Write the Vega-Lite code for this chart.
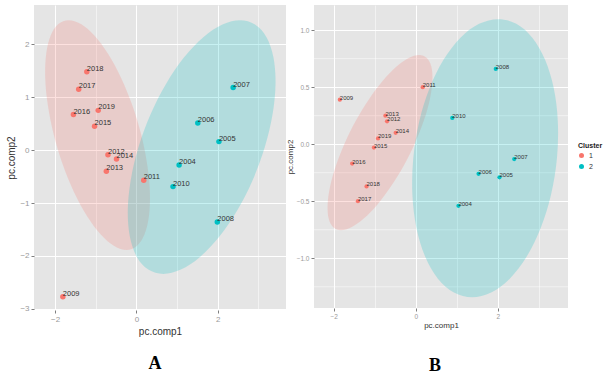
{
  "$schema": "https://vega.github.io/schema/vega-lite/v6.json",
  "background": "white",
  "padding": {"left": 6, "top": 5, "right": 0, "bottom": 0},
  "spacing": 0,
  "datasets": {
    "ptsA": [
      {"year": "2004", "Cluster": "2", "x": 1.05, "y": -0.28},
      {"year": "2005", "Cluster": "2", "x": 2.03, "y": 0.16},
      {"year": "2006", "Cluster": "2", "x": 1.51, "y": 0.51},
      {"year": "2007", "Cluster": "2", "x": 2.38, "y": 1.18},
      {"year": "2008", "Cluster": "2", "x": 1.99, "y": -1.36},
      {"year": "2009", "Cluster": "1", "x": -1.81, "y": -2.77},
      {"year": "2010", "Cluster": "2", "x": 0.9, "y": -0.69},
      {"year": "2011", "Cluster": "1", "x": 0.18, "y": -0.57},
      {"year": "2012", "Cluster": "1", "x": -0.7, "y": -0.09},
      {"year": "2013", "Cluster": "1", "x": -0.74, "y": -0.4},
      {"year": "2014", "Cluster": "1", "x": -0.49, "y": -0.17},
      {"year": "2015", "Cluster": "1", "x": -1.03, "y": 0.45},
      {"year": "2016", "Cluster": "1", "x": -1.55, "y": 0.67},
      {"year": "2017", "Cluster": "1", "x": -1.42, "y": 1.15},
      {"year": "2018", "Cluster": "1", "x": -1.22, "y": 1.48},
      {"year": "2019", "Cluster": "1", "x": -0.94, "y": 0.75}
    ],
    "ptsB": [
      {"year": "2004", "Cluster": "2", "x": 1.04, "y": -0.54},
      {"year": "2005", "Cluster": "2", "x": 2.04, "y": -0.29},
      {"year": "2006", "Cluster": "2", "x": 1.53, "y": -0.26},
      {"year": "2007", "Cluster": "2", "x": 2.4, "y": -0.13},
      {"year": "2008", "Cluster": "2", "x": 1.95, "y": 0.66},
      {"year": "2009", "Cluster": "1", "x": -1.85, "y": 0.39},
      {"year": "2010", "Cluster": "2", "x": 0.89, "y": 0.23},
      {"year": "2011", "Cluster": "1", "x": 0.17, "y": 0.5},
      {"year": "2012", "Cluster": "1", "x": -0.7, "y": 0.2},
      {"year": "2013", "Cluster": "1", "x": -0.74, "y": 0.25},
      {"year": "2014", "Cluster": "1", "x": -0.49, "y": 0.1},
      {"year": "2015", "Cluster": "1", "x": -1.02, "y": -0.03},
      {"year": "2016", "Cluster": "1", "x": -1.55, "y": -0.17},
      {"year": "2017", "Cluster": "1", "x": -1.41, "y": -0.5},
      {"year": "2018", "Cluster": "1", "x": -1.2, "y": -0.37},
      {"year": "2019", "Cluster": "1", "x": -0.92, "y": 0.05}
    ],
    "minorB": [
      {"y": -1.25}, {"y": -0.75}, {"y": -0.25}, {"y": 0.25}, {"y": 0.75}
    ],
    "ellA": [
      {"Cluster": "1", "i": 0, "x": -1.667, "y": 2.453},
      {"Cluster": "1", "i": 1, "x": -1.364, "y": 2.379},
      {"Cluster": "1", "i": 2, "x": -1.034, "y": 2.162},
      {"Cluster": "1", "i": 3, "x": -0.698, "y": 1.817},
      {"Cluster": "1", "i": 4, "x": -0.38, "y": 1.368},
      {"Cluster": "1", "i": 5, "x": -0.101, "y": 0.845},
      {"Cluster": "1", "i": 6, "x": 0.12, "y": 0.283},
      {"Cluster": "1", "i": 7, "x": 0.267, "y": -0.279},
      {"Cluster": "1", "i": 8, "x": 0.332, "y": -0.802},
      {"Cluster": "1", "i": 9, "x": 0.308, "y": -1.251},
      {"Cluster": "1", "i": 10, "x": 0.198, "y": -1.596},
      {"Cluster": "1", "i": 11, "x": 0.01, "y": -1.813},
      {"Cluster": "1", "i": 12, "x": -0.245, "y": -1.887},
      {"Cluster": "1", "i": 13, "x": -0.548, "y": -1.813},
      {"Cluster": "1", "i": 14, "x": -0.878, "y": -1.596},
      {"Cluster": "1", "i": 15, "x": -1.214, "y": -1.251},
      {"Cluster": "1", "i": 16, "x": -1.532, "y": -0.802},
      {"Cluster": "1", "i": 17, "x": -1.811, "y": -0.279},
      {"Cluster": "1", "i": 18, "x": -2.032, "y": 0.283},
      {"Cluster": "1", "i": 19, "x": -2.179, "y": 0.845},
      {"Cluster": "1", "i": 20, "x": -2.244, "y": 1.368},
      {"Cluster": "1", "i": 21, "x": -2.22, "y": 1.817},
      {"Cluster": "1", "i": 22, "x": -2.11, "y": 2.162},
      {"Cluster": "1", "i": 23, "x": -1.922, "y": 2.379},
      {"Cluster": "2", "i": 0, "x": 2.549, "y": 2.453},
      {"Cluster": "2", "i": 1, "x": 2.919, "y": 2.371},
      {"Cluster": "2", "i": 2, "x": 3.2, "y": 2.132},
      {"Cluster": "2", "i": 3, "x": 3.371, "y": 1.751},
      {"Cluster": "2", "i": 4, "x": 3.423, "y": 1.255},
      {"Cluster": "2", "i": 5, "x": 3.35, "y": 0.678},
      {"Cluster": "2", "i": 6, "x": 3.159, "y": 0.057},
      {"Cluster": "2", "i": 7, "x": 2.862, "y": -0.564},
      {"Cluster": "2", "i": 8, "x": 2.479, "y": -1.141},
      {"Cluster": "2", "i": 9, "x": 2.037, "y": -1.637},
      {"Cluster": "2", "i": 10, "x": 1.564, "y": -2.018},
      {"Cluster": "2", "i": 11, "x": 1.095, "y": -2.257},
      {"Cluster": "2", "i": 12, "x": 0.661, "y": -2.339},
      {"Cluster": "2", "i": 13, "x": 0.291, "y": -2.257},
      {"Cluster": "2", "i": 14, "x": 0.01, "y": -2.018},
      {"Cluster": "2", "i": 15, "x": -0.161, "y": -1.637},
      {"Cluster": "2", "i": 16, "x": -0.213, "y": -1.141},
      {"Cluster": "2", "i": 17, "x": -0.14, "y": -0.564},
      {"Cluster": "2", "i": 18, "x": 0.051, "y": 0.057},
      {"Cluster": "2", "i": 19, "x": 0.348, "y": 0.678},
      {"Cluster": "2", "i": 20, "x": 0.731, "y": 1.255},
      {"Cluster": "2", "i": 21, "x": 1.173, "y": 1.751},
      {"Cluster": "2", "i": 22, "x": 1.646, "y": 2.132},
      {"Cluster": "2", "i": 23, "x": 2.115, "y": 2.371}
    ],
    "ellB": [
      {"Cluster": "1", "i": 0, "x": 0.08, "y": 0.781},
      {"Cluster": "1", "i": 1, "x": 0.27, "y": 0.755},
      {"Cluster": "1", "i": 2, "x": 0.381, "y": 0.678},
      {"Cluster": "1", "i": 3, "x": 0.406, "y": 0.556},
      {"Cluster": "1", "i": 4, "x": 0.346, "y": 0.397},
      {"Cluster": "1", "i": 5, "x": 0.202, "y": 0.212},
      {"Cluster": "1", "i": 6, "x": -0.015, "y": 0.013},
      {"Cluster": "1", "i": 7, "x": -0.29, "y": -0.186},
      {"Cluster": "1", "i": 8, "x": -0.606, "y": -0.371},
      {"Cluster": "1", "i": 9, "x": -0.938, "y": -0.53},
      {"Cluster": "1", "i": 10, "x": -1.267, "y": -0.652},
      {"Cluster": "1", "i": 11, "x": -1.568, "y": -0.729},
      {"Cluster": "1", "i": 12, "x": -1.822, "y": -0.755},
      {"Cluster": "1", "i": 13, "x": -2.012, "y": -0.729},
      {"Cluster": "1", "i": 14, "x": -2.123, "y": -0.652},
      {"Cluster": "1", "i": 15, "x": -2.148, "y": -0.53},
      {"Cluster": "1", "i": 16, "x": -2.088, "y": -0.371},
      {"Cluster": "1", "i": 17, "x": -1.944, "y": -0.186},
      {"Cluster": "1", "i": 18, "x": -1.727, "y": 0.013},
      {"Cluster": "1", "i": 19, "x": -1.452, "y": 0.212},
      {"Cluster": "1", "i": 20, "x": -1.136, "y": 0.397},
      {"Cluster": "1", "i": 21, "x": -0.804, "y": 0.556},
      {"Cluster": "1", "i": 22, "x": -0.475, "y": 0.678},
      {"Cluster": "1", "i": 23, "x": -0.174, "y": 0.755},
      {"Cluster": "2", "i": 0, "x": 2.007, "y": 1.096},
      {"Cluster": "2", "i": 1, "x": 2.45, "y": 1.055},
      {"Cluster": "2", "i": 2, "x": 2.841, "y": 0.933},
      {"Cluster": "2", "i": 3, "x": 3.152, "y": 0.739},
      {"Cluster": "2", "i": 4, "x": 3.365, "y": 0.487},
      {"Cluster": "2", "i": 5, "x": 3.463, "y": 0.193},
      {"Cluster": "2", "i": 6, "x": 3.441, "y": -0.123},
      {"Cluster": "2", "i": 7, "x": 3.299, "y": -0.439},
      {"Cluster": "2", "i": 8, "x": 3.047, "y": -0.733},
      {"Cluster": "2", "i": 9, "x": 2.704, "y": -0.985},
      {"Cluster": "2", "i": 10, "x": 2.291, "y": -1.179},
      {"Cluster": "2", "i": 11, "x": 1.838, "y": -1.301},
      {"Cluster": "2", "i": 12, "x": 1.373, "y": -1.342},
      {"Cluster": "2", "i": 13, "x": 0.93, "y": -1.301},
      {"Cluster": "2", "i": 14, "x": 0.539, "y": -1.179},
      {"Cluster": "2", "i": 15, "x": 0.228, "y": -0.985},
      {"Cluster": "2", "i": 16, "x": 0.015, "y": -0.733},
      {"Cluster": "2", "i": 17, "x": -0.083, "y": -0.439},
      {"Cluster": "2", "i": 18, "x": -0.061, "y": -0.123},
      {"Cluster": "2", "i": 19, "x": 0.081, "y": 0.193},
      {"Cluster": "2", "i": 20, "x": 0.333, "y": 0.487},
      {"Cluster": "2", "i": 21, "x": 0.676, "y": 0.739},
      {"Cluster": "2", "i": 22, "x": 1.089, "y": 0.933},
      {"Cluster": "2", "i": 23, "x": 1.542, "y": 1.055}
    ]
  },
  "hconcat": [
    {
      "width": 252,
      "height": 305,
      "title": {"text": "A", "orient": "bottom", "font": "Liberation Serif", "fontSize": 18, "fontWeight": "bold", "color": "black", "offset": 19, "dx": -5},
      "layer": [
        {
          "data": {"name": "ellA"},
          "transform": [{"filter": "datum.Cluster === '1'"}],
          "mark": {"type": "line", "fill": "#F8766D", "fillOpacity": 0.22, "strokeOpacity": 0, "interpolate": "cardinal-closed"},
          "encoding": {
            "x": {"field": "x", "type": "quantitative", "scale": {"domain": [-2.52, 3.68], "nice": false, "zero": false}, "title": "pc.comp1",
              "axis": {"values": [-2, -1, 0, 1, 2, 3], "labelExpr": "datum.value % 2 === 0 ? datum.label : ''", "labelOverlap": false, "labelFontSize": 8, "titleFontSize": 10, "titlePadding": 3,
                "tickOpacity": {"condition": {"test": "datum.value % 2 !== 0", "value": 0}, "value": 1},
                "gridWidth": {"condition": {"test": "datum.value % 2 !== 0", "value": 0.5}, "value": 1}}},
            "y": {"field": "y", "type": "quantitative", "scale": {"domain": [-3.02, 2.74], "nice": false, "zero": false}, "title": "pc.comp2",
              "axis": {"values": [-3, -2.5, -2, -1.5, -1, -0.5, 0, 0.5, 1, 1.5, 2, 2.5], "labelExpr": "datum.value % 1 === 0 ? datum.label : ''", "labelOverlap": false, "labelFontSize": 8, "titleFontSize": 10, "titlePadding": 3,
                "tickOpacity": {"condition": {"test": "datum.value % 1 !== 0", "value": 0}, "value": 1},
                "gridWidth": {"condition": {"test": "datum.value % 1 !== 0", "value": 0.5}, "value": 1}}},
            "order": {"field": "i", "type": "quantitative"}
          }
        },
        {
          "data": {"name": "ellA"},
          "transform": [{"filter": "datum.Cluster === '2'"}],
          "mark": {"type": "line", "fill": "#00BFC4", "fillOpacity": 0.22, "strokeOpacity": 0, "interpolate": "cardinal-closed"},
          "encoding": {
            "x": {"field": "x", "type": "quantitative"},
            "y": {"field": "y", "type": "quantitative"},
            "order": {"field": "i", "type": "quantitative"}
          }
        },
        {
          "data": {"name": "ptsA"},
          "mark": {"type": "circle", "size": 30, "opacity": 1},
          "encoding": {
            "x": {"field": "x", "type": "quantitative"},
            "y": {"field": "y", "type": "quantitative"},
            "color": {"field": "Cluster", "type": "nominal", "title": "Cluster", "scale": {"domain": ["1", "2"], "range": ["#F8766D", "#00BFC4"]}}
          }
        },
        {
          "data": {"name": "ptsA"},
          "mark": {"type": "text", "align": "left", "baseline": "middle", "dx": 0, "dy": -3, "fontSize": 7.5, "font": "Liberation Sans", "color": "#333333"},
          "encoding": {
            "x": {"field": "x", "type": "quantitative"},
            "y": {"field": "y", "type": "quantitative"},
            "text": {"field": "year"}
          }
        }
      ]
    },
    {
      "width": 254,
      "height": 303,
      "title": {"text": "B", "orient": "bottom", "font": "Liberation Serif", "fontSize": 18, "fontWeight": "bold", "color": "black", "offset": 27, "dx": -6},
      "layer": [
        {
          "data": {"name": "minorB"},
          "mark": {"type": "rule", "color": "#FFFFFF", "strokeWidth": 0.5},
          "encoding": {
            "y": {"field": "y", "type": "quantitative", "scale": {"domain": [-1.436, 1.22], "nice": false, "zero": false}, "title": "pc.comp2",
              "axis": {"values": [-1, -0.5, 0, 0.5, 1], "format": ".1f", "labelOverlap": false, "labelFontSize": 6.5, "titleFontSize": 8, "titlePadding": 2}}
          }
        },
        {
          "data": {"name": "ellB"},
          "transform": [{"filter": "datum.Cluster === '1'"}],
          "mark": {"type": "line", "fill": "#F8766D", "fillOpacity": 0.22, "strokeOpacity": 0, "interpolate": "cardinal-closed"},
          "encoding": {
            "x": {"field": "x", "type": "quantitative", "scale": {"domain": [-2.48, 3.71], "nice": false, "zero": false}, "title": "pc.comp1",
              "axis": {"values": [-2, -1, 0, 1, 2, 3], "labelExpr": "datum.value % 2 === 0 ? datum.label : ''", "labelOverlap": false, "labelFontSize": 6.5, "titleFontSize": 8, "titlePadding": 2,
                "tickOpacity": {"condition": {"test": "datum.value % 2 !== 0", "value": 0}, "value": 1},
                "gridWidth": {"condition": {"test": "datum.value % 2 !== 0", "value": 0.5}, "value": 1}}},
            "y": {"field": "y", "type": "quantitative"},
            "order": {"field": "i", "type": "quantitative"}
          }
        },
        {
          "data": {"name": "ellB"},
          "transform": [{"filter": "datum.Cluster === '2'"}],
          "mark": {"type": "line", "fill": "#00BFC4", "fillOpacity": 0.22, "strokeOpacity": 0, "interpolate": "cardinal-closed"},
          "encoding": {
            "x": {"field": "x", "type": "quantitative"},
            "y": {"field": "y", "type": "quantitative"},
            "order": {"field": "i", "type": "quantitative"}
          }
        },
        {
          "data": {"name": "ptsB"},
          "mark": {"type": "circle", "size": 18, "opacity": 1},
          "encoding": {
            "x": {"field": "x", "type": "quantitative"},
            "y": {"field": "y", "type": "quantitative"},
            "color": {"field": "Cluster", "type": "nominal", "title": "Cluster", "scale": {"domain": ["1", "2"], "range": ["#F8766D", "#00BFC4"]}}
          }
        },
        {
          "data": {"name": "ptsB"},
          "mark": {"type": "text", "align": "left", "baseline": "middle", "dx": 0, "dy": -2, "fontSize": 6, "font": "Liberation Sans", "color": "#333333"},
          "encoding": {
            "x": {"field": "x", "type": "quantitative"},
            "y": {"field": "y", "type": "quantitative"},
            "text": {"field": "year"}
          }
        }
      ]
    }
  ],
  "resolve": {"scale": {"color": "shared"}},
  "config": {
    "font": "Liberation Sans",
    "view": {"fill": "#E5E5E5", "stroke": null},
    "axis": {
      "domain": false,
      "gridColor": "#FFFFFF",
      "tickColor": "#7F7F7F",
      "tickSize": 3,
      "labelPadding": 2,
      "labelColor": "#9A9A9A",
      "labelFont": "Liberation Sans",
      "titleFont": "Liberation Sans",
      "titleFontWeight": "normal",
      "titleColor": "#333333"
    },
    "legend": {
      "orient": "none",
      "legendX": 544,
      "legendY": 137,
      "titleFontSize": 7,
      "titleFontWeight": "bold",
      "titleColor": "#222222",
      "titlePadding": 3,
      "labelFontSize": 7,
      "labelColor": "#333333",
      "symbolType": "circle",
      "symbolSize": 25,
      "symbolStrokeWidth": 0,
      "rowPadding": 3
    }
  }
}
